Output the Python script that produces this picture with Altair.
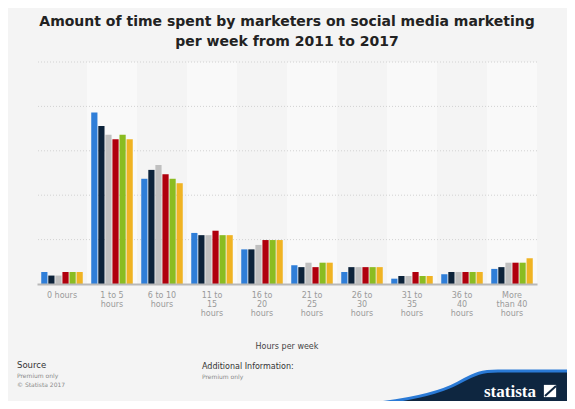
import altair as alt
import pandas as pd

# ---------------- data ----------------
CATEGORIES = ["0 hours", "1 to 5|hours", "6 to 10|hours", "11 to|15|hours", "16 to|20|hours",
              "21 to|25|hours", "26 to|30|hours", "31 to|35|hours", "36 to|40|hours", "More|than 40|hours"]
YEARS = ["2012", "2013", "2014", "2015", "2016", "2017"]
S2012 = [2.7, 38.6, 23.7, 11.5, 7.8, 4.2, 2.7, 1.2, 2.2, 3.4]
S2013 = [1.9, 35.6, 25.7, 11.0, 7.8, 3.8, 3.8, 1.8, 2.7, 3.8]
S2014 = [1.9, 33.6, 26.8, 11.0, 8.8, 4.8, 3.8, 1.8, 2.7, 4.8]
S2015 = [2.7, 32.6, 24.7, 12.0, 9.9, 3.8, 3.8, 2.7, 2.7, 4.8]
S2016 = [2.7, 33.6, 23.7, 11.0, 9.9, 4.8, 3.8, 1.8, 2.7, 4.8]
S2017 = [2.7, 32.6, 22.7, 11.0, 9.9, 4.8, 3.8, 1.8, 2.7, 5.8]
SERIES = [S2012, S2013, S2014, S2015, S2016, S2017]
COLORS = ["#2f7ed8", "#0d233a", "#c0c0c0", "#b0000d", "#8bbc21", "#f0b323"]
GRID_VALUES = [10, 20, 30, 40, 50]
TITLE_LINES = ["Amount of time spent by marketers on social media marketing",
               "per week from 2011 to 2017"]
X_TITLE = "Hours per week"

W, H = 500, 222
FONT = "DejaVu Sans"

rows = []
for year, vals in zip(YEARS, SERIES):
    for cat, v in zip(CATEGORIES, vals):
        rows.append({"category": cat, "year": year, "value": v})
df = pd.DataFrame(rows)
band_df = pd.DataFrame({"category": CATEGORIES, "idx": list(range(len(CATEGORIES)))})

yscale = alt.Scale(domain=[0, 50], nice=False, zero=True)
xaxis = alt.Axis(title=None, labelExpr="split(datum.label, '|')", labelAngle=0,
                 labelColor="#9a9a9a", labelFontSize=8, labelFont=FONT, labelLineHeight=9,
                 labelPadding=7, ticks=False, domainColor="#b8b8b8", domainWidth=2,
                 labelLimit=120, zindex=1)
X = alt.X("category:N", sort=CATEGORIES, scale=alt.Scale(paddingInner=0, paddingOuter=0), axis=xaxis)

bands = alt.Chart(band_df).transform_filter("datum.idx % 2 == 1").mark_rect(color="#f9f9f9").encode(
    x=X, y=alt.value(0), y2=alt.value(H)
)

grid = alt.Chart(pd.DataFrame({"v": GRID_VALUES})).mark_rule(
    color="#d2d2d2", strokeDash=[1, 2], strokeWidth=1
).encode(y=alt.Y("v:Q", scale=yscale, axis=None))

bars = alt.Chart(df).mark_bar().encode(
    x=X,
    xOffset=alt.XOffset("year:N", sort=YEARS, scale=alt.Scale(paddingInner=0.12, paddingOuter=0.6)),
    y=alt.Y("value:Q", scale=yscale, axis=None),
    color=alt.Color("year:N", sort=YEARS, scale=alt.Scale(domain=YEARS, range=COLORS), legend=None),
)


def txt(s, x, y, size, color, weight="normal", align="left", font=FONT):
    return alt.Chart(pd.DataFrame({"t": [s]})).mark_text(
        align=align, baseline="alphabetic", fontSize=size, font=font, color=color, fontWeight=weight
    ).encode(text="t:N", x=alt.value(x), y=alt.value(y))


# plot origin on page: (37, 62)
title1 = txt(TITLE_LINES[0], 250, 26 - 62, 14, "#222222", "bold", "center")
title2 = txt(TITLE_LINES[1], 250, 46 - 62, 14, "#222222", "bold", "center")
xtitle = txt(X_TITLE, 250, 349 - 62, 8, "#444444", "normal", "center")
src = txt("Source", 17 - 37, 368 - 62, 8.5, "#333333")
src1 = txt("Premium only", 17 - 37, 378 - 62, 6, "#8a8a8a")
src2 = txt("© Statista 2017", 17 - 37, 387 - 62, 6, "#8a8a8a")
add = txt("Additional Information:", 202 - 37, 369 - 62, 8, "#333333")
add1 = txt("Premium only", 202 - 37, 379 - 62, 6, "#8a8a8a")

WAVE = ("M -1.5 0.08 C -0.75 0.04 -0.34 -0.05 -0.12 -0.17 "
        "C 0.06 -0.27 0.12 -0.29 0.28 -0.29 L 1.4 -0.29 L 1.4 0.4 L -1.5 0.4 Z")
wave = alt.Chart(pd.DataFrame({"a": [1]})).mark_point(
    shape=WAVE, filled=True, fill="#0e2640", stroke="#2a7ad6", strokeWidth=3, opacity=1, size=40000
).encode(x=alt.value(470 - 37), y=alt.value(400 - 62))

logo_text = txt("statista", 484 - 37, 397 - 62, 17, "#ffffff", "bold", "left", "Liberation Sans Narrow")
logo_box = alt.Chart(pd.DataFrame({"a": [1]})).mark_point(
    shape="square", filled=True, fill="#ffffff", opacity=1, size=150
).encode(x=alt.value(550 - 37), y=alt.value(391 - 62))
logo_slash = alt.Chart(pd.DataFrame({"a": [1]})).mark_rule(color="#0e2640", strokeWidth=2).encode(
    x=alt.value(545 - 37), y=alt.value(396 - 62), x2=alt.value(556 - 37), y2=alt.value(386 - 62)
)

chart = alt.layer(
    bands, grid, bars, title1, title2, xtitle, src, src1, src2, add, add1,
    wave, logo_text, logo_box, logo_slash
).properties(
    width=W, height=H,
    autosize=alt.AutoSizeParams(type="none"),
    padding={"left": 29, "top": 54, "right": 30, "bottom": 117},
    background="#f4f4f4",
).configure_view(stroke=None)

chart.save("out.html", embed_options={"renderer": "svg", "actions": False})
